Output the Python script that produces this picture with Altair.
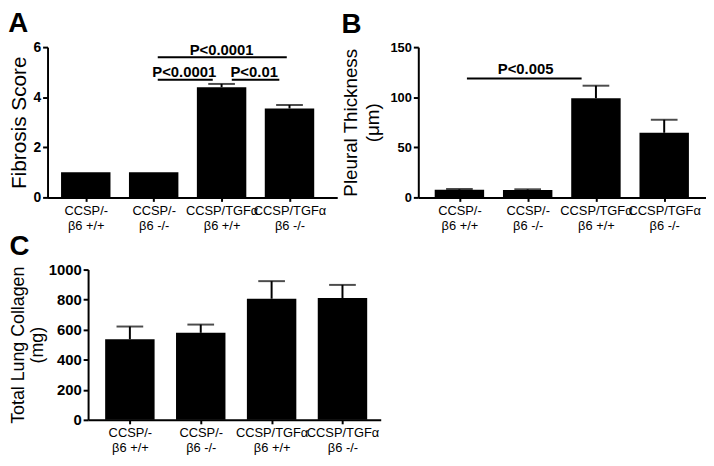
import altair as alt
import pandas as pd

# ---------------- data ----------------
categories = ["CCSP/-|β6 +/+", "CCSP/-|β6 -/-", "CCSP/TGFα|β6 +/+", "CCSP/TGFα|β6 -/-"]
idx = [0, 1, 2, 3]

fibrosis = [1.0, 1.0, 4.40, 3.55]
fibrosis_err = [0.0, 0.0, 0.13, 0.14]

thickness = [7.7, 7.5, 99.0, 64.5]
thickness_err = [0.7, 0.6, 12.5, 13.0]

collagen = [536, 579, 806, 811]
collagen_err = [85, 55, 117, 87]

# significance annotations
a_x1 = [1.06, 1.06, 2.15]
a_x2 = [2.96, 1.87, 2.85]
a_y = [5.6, 4.7, 4.7]
a_text = ["P<0.0001", "P<0.0001", "P<0.01"]
a_tx = [2.0, 1.45, 2.48]
a_ty = [5.9, 5.0, 5.0]

b_x1 = [0.11]
b_x2 = [1.79]
b_y = [118.6]
b_text = ["P<0.005"]
b_tx = [0.97]
b_ty = [128.0]

FONT = "Liberation Sans"
label_arr = "[" + ",".join("'" + c + "'" for c in categories) + "]"
label_expr = "split(" + label_arr + "[datum.value], '|')"


def panel(letter, values, errs, ytitle, ydomain, yvalues, xdomain, width, height,
          ann=None, tsize=19, lsize=13, tpad=4, tlh=22, xrange=None, yoffset=0):
    df = pd.DataFrame({"idx": idx, "v": values, "e": errs})
    df["hi"] = df["v"] + df["e"]
    if xrange is None:
        xs = alt.Scale(domain=xdomain, nice=False, zero=False)
    else:
        xs = alt.Scale(domain=xdomain, nice=False, zero=False, range=xrange)
    ys = alt.Scale(domain=ydomain, nice=False)
    xaxis = alt.Axis(values=idx, tickCount=len(idx), labelExpr=label_expr, title="",
                     grid=False, tickSize=4, labelFontSize=13, labelFont=FONT,
                     labelFontWeight="normal", labelLineHeight=15,
                     labelPadding=3, labelAngle=0, labelColor="black",
                     labelOverlap=False, labelFlush=False)
    yaxis = alt.Axis(values=yvalues, tickCount=len(yvalues), title=ytitle, grid=False,
                     format="d", tickSize=5, labelFontSize=lsize, labelFont=FONT,
                     labelFontWeight="bold", labelColor="black", labelPadding=2,
                     titleFont=FONT, titleFontSize=tsize, titleFontWeight="normal",
                     titleColor="black", titlePadding=tpad, titleLineHeight=tlh,
                     labelOverlap=False, labelFlush=False, offset=yoffset)
    base = alt.Chart(df)
    bars = base.mark_bar(color="black", size=50).encode(
        x=alt.X("idx:Q", scale=xs, axis=xaxis),
        y=alt.Y("v:Q", scale=ys, axis=yaxis),
    )
    eb = base.transform_filter("datum.e > 0")
    err = eb.mark_rule(color="black", strokeWidth=2).encode(
        x="idx:Q", y="v:Q", y2="hi:Q")
    cap = eb.mark_tick(color="black", orient="horizontal", size=27,
                       thickness=2).encode(x="idx:Q", y="hi:Q")
    layers = [bars, err, cap]
    if ann is not None:
        x1, x2, yy, tt, tx, ty = ann
        adf = pd.DataFrame({"x1": x1, "x2": x2, "y": yy})
        tdf = pd.DataFrame({"t": tt, "tx": tx, "ty": ty})
        lines = alt.Chart(adf).mark_rule(color="black", strokeWidth=2).encode(
            x="x1:Q", x2="x2:Q", y="y:Q")
        texts = alt.Chart(tdf).mark_text(font=FONT, fontSize=15, fontWeight="bold",
                                         color="black", baseline="middle").encode(
            x="tx:Q", y="ty:Q", text="t:N")
        layers += [lines, texts]
    return alt.layer(*layers).properties(
        width=width, height=height,
        title=alt.TitleParams(letter, anchor="start", frame="bounds", fontSize=28,
                              font=FONT, fontWeight="bold", color="black", offset=2),
    )


pA = panel("A", fibrosis, fibrosis_err, "Fibrosis Score", [0, 6], [0, 2, 4, 6],
           [-0.49, 3.63], 293, 152, (a_x1, a_x2, a_y, a_text, a_tx, a_ty),
           tsize=21, lsize=14, tpad=4)
pB = panel("B", thickness, thickness_err, ["Pleural Thickness", "(μm)"], [0, 150],
           [0, 50, 100, 150], [-0.53, 3.54], 291, 152,
           (b_x1, b_x2, b_y, b_text, b_tx, b_ty), tsize=19, lsize=13, tpad=8,
           tlh=22)
pC = panel("C", collagen, collagen_err, ["Total Lung Collagen", "(mg)"], [0, 1000],
           [0, 200, 400, 600, 800, 1000], [-0.52, 3.47], 337, 152,
           tsize=18, lsize=15, tpad=2, tlh=19, xrange=[41, 337], yoffset=-41)

chart = alt.concat(
    pA, pB, pC, columns=2, align="all", bounds="flush",
    spacing={"row": 73, "column": 38},
).properties(padding=0).configure_view(stroke=None).configure_axis(
    domainColor="black", domainWidth=2, tickColor="black", tickWidth=2,
)

chart.save("out.html", embed_options={"renderer": "svg", "actions": False})
